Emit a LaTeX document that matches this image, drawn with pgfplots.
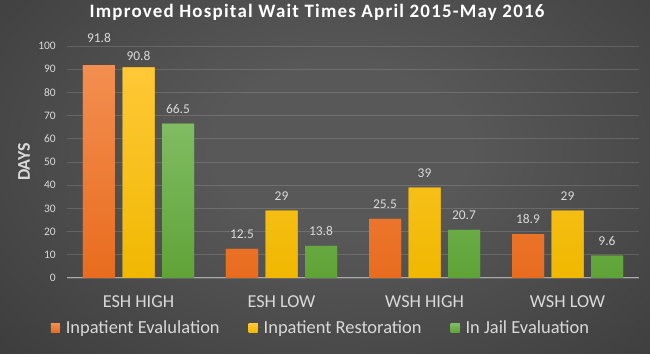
\documentclass[border=0pt]{standalone}
\usepackage{fontspec}
\setmainfont{Carlito}
\newfontfamily\titlefont[LetterSpace=6.5]{Carlito}
\usepackage{pgfplots}
\usepackage{pgfplotstable}
\pgfplotsset{compat=1.18}
\definecolor{bgin}{RGB}{88,88,88}
\definecolor{bgout}{RGB}{34,34,34}
\definecolor{lab}{RGB}{217,217,217}
\definecolor{axisc}{RGB}{170,170,170}
\definecolor{orT}{RGB}{243,142,80}
\definecolor{orB}{RGB}{232,108,30}
\definecolor{yeT}{RGB}{255,200,55}
\definecolor{yeB}{RGB}{240,184,0}
\definecolor{grT}{RGB}{128,188,98}
\definecolor{grB}{RGB}{95,163,55}
\pgfdeclareradialshading{bgshade}{\pgfpoint{0bp}{0bp}}{color(0bp)=(bgin); color(8bp)=(bgin); color(50bp)=(bgout)}

\pgfplotstableread{
x y dy
0 91.8 22
1 12.5 10
2 25.5 10
3 18.9 10
}\evald
\pgfplotstableread{
x y dy
0 90.8 6.5
1 29 10
2 39 10
3 29 10
}\restd
\pgfplotstableread{
x y dy
0 66.5 10
1 13.8 10
2 20.7 10
3 9.6 10
}\jaild

\begin{document}
\begin{tikzpicture}
\useasboundingbox (0,0) rectangle (650bp,354bp);
\begin{scope}
\clip (0,0) rectangle (650bp,354bp);
\shade[shading=bgshade] (-60bp,-56bp) rectangle (740bp,464bp);
\end{scope}
\begin{axis}[
  at={(67bp,76bp)}, anchor=south west,
  scale only axis, width=572bp, height=232bp,
  xmin=-0.5, xmax=3.5, ymin=0, ymax=100,
  ytick={0,10,...,100},
  xtick={0,1,2,3},
  xticklabels={ESH HIGH,ESH LOW,WSH HIGH,WSH LOW},
  major tick length=0pt,
  axis lines*=left,
  x axis line style={draw=axisc, line width=1bp},
  y axis line style={draw=none},
  ymajorgrids,
  major grid style={draw=white, opacity=0.14, line width=0.8bp},
  /pgf/number format/assume math mode=true,
  yticklabel style={font=\fontsize{11.5}{13}\selectfont, text=lab, anchor=east, inner sep=0pt, xshift=-11bp},
  xticklabel style={font=\fontsize{18.3}{20}\selectfont, text=lab, anchor=center, inner sep=0pt, yshift=-24bp},
  ylabel={DAYS},
  ylabel style={at={(axis description cs:-0.0752,0.5)}, anchor=center, rotate=0, font=\bfseries\fontsize{18}{20}\selectfont, text=lab},
  title={Improved Hospital Wait Times April 2015-May 2016},
  title style={at={(axis description cs:0.437,1.095)}, anchor=base, font=\titlefont\bfseries\fontsize{19}{21}\selectfont, text=white},
  ybar=7.5bp, bar width=32bp,
  nodes near coords,
  visualization depends on={\thisrow{dy} \as \dy},
  nodes near coords style={font=\fontsize{13.5}{15}\selectfont, text=lab, inner sep=0pt, anchor=south, yshift=\dy},
  legend style={at={(axis description cs:0.444,-0.2155)}, anchor=center, draw=none, fill=none,
    font=\fontsize{18.5}{20}\selectfont, text=lab, legend columns=3,
    /tikz/every even column/.append style={column sep=27bp}},
  legend image code/.code={\fill[#1] (0bp,-4.5bp) rectangle (9bp,4.5bp); \path (0bp,0bp) -- (13bp,0bp);},
]
\addplot[draw=none, top color=orT, bottom color=orB, fill=orB] table[x=x,y=y] {\evald};
\addplot[draw=none, top color=yeT, bottom color=yeB, fill=yeB] table[x=x,y=y] {\restd};
\addplot[draw=none, top color=grT, bottom color=grB, fill=grB] table[x=x,y=y] {\jaild};
\legend{Inpatient Evalulation, Inpatient Restoration, In Jail Evaluation}
\end{axis}
\end{tikzpicture}
\end{document}
